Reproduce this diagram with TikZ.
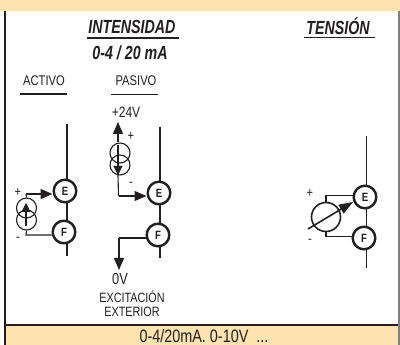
\documentclass[tikz,border=0pt]{standalone}
\usepackage{fontspec}
\setmainfont[FakeStretch=0.8]{Liberation Sans}
\newfontfamily\headf[FakeStretch=0.75]{Liberation Sans}
\usetikzlibrary{arrows.meta}
\definecolor{band}{HTML}{FDE3B0}
\definecolor{ink}{HTML}{231F20}
\tikzset{
  x=1pt,y=-1pt,
  every node/.style={text=ink,inner sep=0pt},
  term/.style={circle,draw=ink,line width=2.4pt,fill=white,minimum size=22.6pt,font=\bfseries\fontsize{12}{12}\selectfont},
  wire/.style={draw=ink,line width=1.1pt},
  bus/.style={draw=ink,line width=1.7pt},
  src/.style={circle,draw=ink,line width=1.1pt,minimum size=20pt,fill=none},
  meter/.style={circle,draw=ink,line width=1.6pt,minimum size=29pt,fill=none},
  tip/.style={-{Triangle[length=12pt,width=10pt]}},
  tipsmall/.style={-{Triangle[length=9pt,width=9pt]}},
  rule/.style={draw=ink,line width=1.7pt},
  head/.style={font=\headf\bfseries\itshape\fontsize{19}{19}\selectfont},
  lab/.style={font=\fontsize{14}{14}\selectfont},
  small/.style={font=\fontsize{13.5}{14}\selectfont},
  sign/.style={font=\fontsize{14}{14}\selectfont},
}
\begin{document}
\begin{tikzpicture}
\useasboundingbox (0,0) rectangle (400,345);
\fill[white] (0,0) rectangle (400,345);
\fill[band] (0,0) rectangle (400,11.5);
\fill[band] (5,325) rectangle (399,345);
\draw[draw=ink,line width=1.6pt] (5,11.5) -- (5,345);
\draw[draw=ink,line width=1.8pt] (4.2,325) -- (399,325);
\draw[draw=gray,line width=1.2pt] (399,11.5) -- (399,345);

\node[head] (tI) at (132,27) {INTENSIDAD};
\coordinate (r1a) at (87,38); \coordinate (r1b) at (179,38);
\draw[rule] (r1a) -- (r1b);
\node[head] (tR) at (130,53) {0-4 / 20 mA};
\node[head] (tT) at (338,26) {TENSIÓN};
\coordinate (r2a) at (304,37.5); \coordinate (r2b) at (375,37.5);
\draw[rule] (r2a) -- (r2b);
\node[lab] (ta) at (44,81) {ACTIVO};
\coordinate (r3a) at (20,94); \coordinate (r3b) at (67,94);
\draw[rule] (r3a) -- (r3b);
\node[lab] (tp) at (136,81) {PASIVO};
\coordinate (r4a) at (111,94.5); \coordinate (r4b) at (158,94.5);
\draw[rule] (r4a) -- (r4b);

% ACTIVO
\coordinate (b1t) at (67,124); \coordinate (b1b) at (67,256);
\draw[bus] (b1t) -- (b1b);
\node[term] (E1) at (65,191) {E};
\node[term] (F1) at (64,232) {F};
\node[src] (s1a) at (26.5,208) {};
\node[src] (s1b) at (26.5,220) {};
\coordinate (w1) at (26,194); \coordinate (w2) at (26,235);
\draw[wire] (s1a.north) -- (w1);
\draw[wire,tip] (w1) -- (E1.west |- w1);
\draw[wire] (s1b.south) -- (w2) -- (F1.west |- w2);
\coordinate (a1b) at (26,226); \coordinate (a1t) at (26,203);
\draw[wire,tipsmall] (a1b) -- (a1t);
\node[sign] (p1) at (18,192) {+};
\node[sign] (m1) at (18,239) {-};

% PASIVO
\coordinate (b2t) at (160,127); \coordinate (b2b) at (160,258);
\draw[bus] (b2t) -- (b2b);
\node[term] (E2) at (159,193) {E};
\node[term] (F2) at (158,235) {F};
\node[src] (s2a) at (120,153) {};
\node[src] (s2b) at (120,165) {};
\node[lab,font=\fontsize{15}{15}\selectfont] (v24) at (126,112) {+24V};
\coordinate (t2) at (118,122);
\draw[wire,tip] (s2a.north -| t2) -- (t2);
\coordinate (a2b) at (118,145); \coordinate (a2t) at (118,175);
\draw[wire,tipsmall] (a2b) -- (a2t);
\coordinate (w3) at (118.5,196);
\draw[wire] (a2t) -- (w3);
\draw[wire,tip] (w3) -- (E2.west |- w3);
\coordinate (w4) at (119,238); \coordinate (t4) at (119,270);
\draw[wire] (F2.west |- w4) -- (w4);
\draw[wire,tip] (w4) -- (t4);
\node[sign] (p2) at (131,136) {+};
\node[sign] (m2) at (131,184) {-};
\node[lab,font=\fontsize{16}{16}\selectfont] (v0) at (120,279) {0V};
\node[small,align=center] (ext) at (132,304) {EXCITACIÓN\\EXTERIOR};

% TENSION
\coordinate (b3t) at (366.5,136); \coordinate (b3b) at (366.5,268);
\draw[bus] (b3t) -- (b3b);
\node[term] (E3) at (365,197) {E};
\node[term] (F3) at (364,238) {F};
\node[meter] (M) at (326,217) {};
\coordinate (w5) at (326,195.5); \coordinate (w6) at (326,236.5);
\draw[wire] (M.north) -- (w5) -- (E3.west |- w5);
\draw[wire] (M.south) -- (w6) -- (F3.west |- w6);
\coordinate (d1) at (308,229); \coordinate (d2) at (353,202);
\draw[draw=ink,line width=1.6pt,-{Triangle[length=14pt,width=10pt]}] (d1) -- (d2);
\node[sign] (p3) at (310,193) {+};
\node[sign] (m3) at (310,241) {-};

\node[font=\fontsize{18}{18}\selectfont] (foot) at (204,336) {0-4/20mA. 0-10V\ \ ...};
\end{tikzpicture}
\end{document}
